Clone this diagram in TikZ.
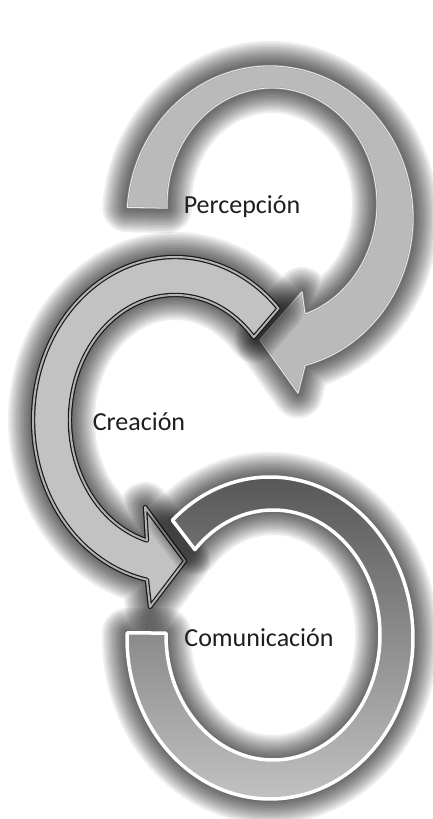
\documentclass[tikz,border=0pt]{standalone}
\usepackage{fontspec}
\setmainfont{Carlito}
\tikzset{
  glowline/.style={draw=black, line join=round, opacity=0.065},
  lbl/.style={font=\fontsize{26}{30}\selectfont, text=black!88, inner sep=0pt},
}
\def\pathA{([shift={(270,601)}]176:143pt and 152pt) arc[start angle=176,end angle=-75.8,x radius=143pt,y radius=152pt] -- (298,426) -- (260,479) -- (302,527) -- ([shift={(272,615)}]-71.7:105pt and 116pt) arc[start angle=-71.7,end angle=182,x radius=105pt,y radius=116pt] -- cycle}
\def\pathB{([shift={(175,399)}]43.2:142pt and 163pt) arc[start angle=43.2,end angle=258.6,x radius=142pt,y radius=163pt] -- (150,212) -- (185,258) -- (145,312) -- ([shift={(175,399)}]254.5:105pt and 125pt) arc[start angle=254.5,end angle=41.4,x radius=105pt,y radius=125pt] -- cycle}
\def\pathC{([shift={(270,181)}]133:143pt and 161pt) arc[start angle=133,end angle=-181.8,x radius=143pt,y radius=161pt] -- ([shift={(273,184)}]-180.9:107pt and 125pt) arc[start angle=-180.9,end angle=136.9,x radius=107pt,y radius=125pt] -- cycle}
\newcommand\glowpath[1]{\foreach \w in {50,46,...,6}{\draw[glowline, line width=\w pt] #1;}}
\begin{document}
\begin{tikzpicture}[x=1pt,y=1pt]
\useasboundingbox[fill=white] (0,0) rectangle (433,819);
% Percepcion arrow
\glowpath{\pathA}
\fill[black!27] \pathA;
\draw[draw=gray!75, double=white!85!gray, double distance=0.8pt, line width=0.5pt, line join=round] \pathA;
% Creacion arrow
\glowpath{\pathB}
\fill[black!24] \pathB;
\draw[draw=black!90, double=black!30, double distance=2pt, line width=1.2pt, line join=round] \pathB;
% Comunicacion ring
\glowpath{\pathC}
\shade[top color=black!68, bottom color=black!22] \pathC;
\draw[white, line width=3.5pt, line join=round] \pathC;
% labels
\node[lbl] (percepcion) at (242,612) {Percepción};
\node[lbl] (creacion) at (139,397) {Creación};
\node[lbl] (comunicacion) at (259,181) {Comunicación};
\end{tikzpicture}
\end{document}
